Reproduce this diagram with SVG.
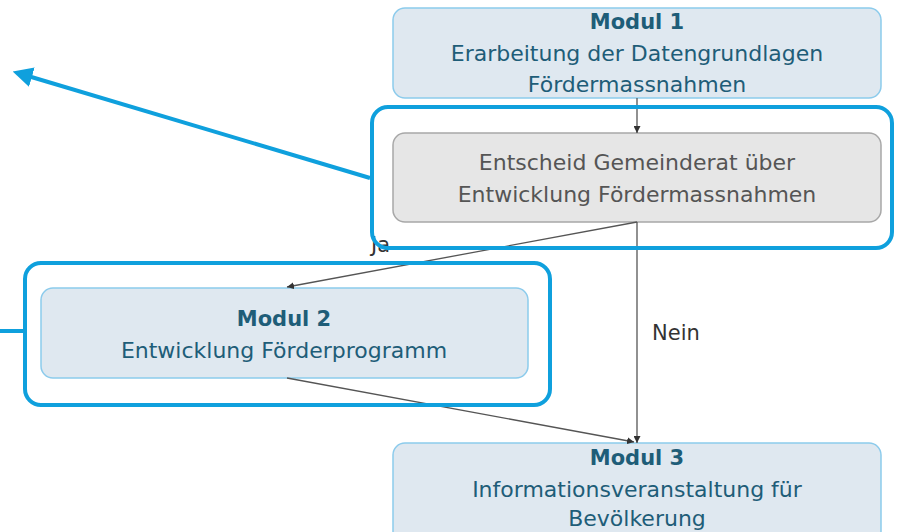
<svg xmlns="http://www.w3.org/2000/svg" width="901" height="532" viewBox="0 0 901 532">
<style>
.box{fill:#dfe8f0;stroke:#8ccbec;stroke-width:1.5}
.gbox{fill:#e6e6e6;stroke:#a8a8a8;stroke-width:1.5}
.t{font-family:"DejaVu Sans","Noto Sans",sans-serif;font-size:22px;fill:#1e5d78;text-anchor:middle}
.b{font-weight:bold;font-size:21px}
.g{fill:#555}
.lbl{font-family:"DejaVu Sans","Noto Sans",sans-serif;font-size:21px;fill:#333}
.c{fill:none;stroke:#555;stroke-width:1.3}
.hl{fill:none;stroke:#0fa0dd;stroke-width:4}
</style>
<defs>
<marker id="ah" viewBox="0 0 10 10" refX="10" refY="5" markerWidth="7" markerHeight="7" orient="auto" markerUnits="userSpaceOnUse"><path d="M0,0L10,5L0,10z" fill="#333"/></marker>
<marker id="bh" viewBox="0 0 10 10" refX="2" refY="5" markerWidth="5" markerHeight="5" orient="auto"><path d="M0,0L10,5L0,10z" fill="#0fa0dd"/></marker>
</defs>
<g id="modul1">
<rect class="box" x="393" y="8" width="488" height="90" rx="12"/>
<text class="t b" x="637" y="29">Modul 1</text>
<text class="t" x="637" y="61">Erarbeitung der Datengrundlagen</text>
<text class="t" x="637" y="92">Fördermassnahmen</text>
</g>
<g id="entscheid">
<rect class="gbox" x="393" y="133" width="488" height="89" rx="12"/>
<text class="t g" x="637" y="170">Entscheid Gemeinderat über</text>
<text class="t g" x="637" y="202">Entwicklung Fördermassnahmen</text>
</g>
<g id="modul2">
<rect class="box" x="41" y="288" width="487" height="90" rx="12"/>
<text class="t b" x="284" y="326">Modul 2</text>
<text class="t" x="284" y="358">Entwicklung Förderprogramm</text>
</g>
<g id="modul3">
<rect class="box" x="393" y="443" width="488" height="100" rx="12"/>
<text class="t b" x="637" y="465">Modul 3</text>
<text class="t" x="637" y="497">Informationsveranstaltung für</text>
<text class="t" x="637" y="526">Bevölkerung</text>
</g>
<g id="connectors">
<line class="c" x1="637" y1="98" x2="637" y2="133" marker-end="url(#ah)"/>
<line class="c" x1="637" y1="222" x2="287" y2="287" marker-end="url(#ah)"/>
<line class="c" x1="637" y1="222" x2="637" y2="443" marker-end="url(#ah)"/>
<line class="c" x1="287" y1="378" x2="634" y2="442" marker-end="url(#ah)"/>
<text class="lbl" x="371" y="252">Ja</text>
<text class="lbl" x="652" y="340">Nein</text>
</g>
<g id="highlights">
<rect class="hl" x="372" y="107" width="520" height="141" rx="16"/>
<rect class="hl" x="25" y="263" width="525" height="142" rx="16"/>
<line class="hl" x1="370" y1="178" x2="28" y2="76" marker-end="url(#bh)"/>
<line class="hl" x1="0" y1="331" x2="25" y2="331"/>
</g>
</svg>
